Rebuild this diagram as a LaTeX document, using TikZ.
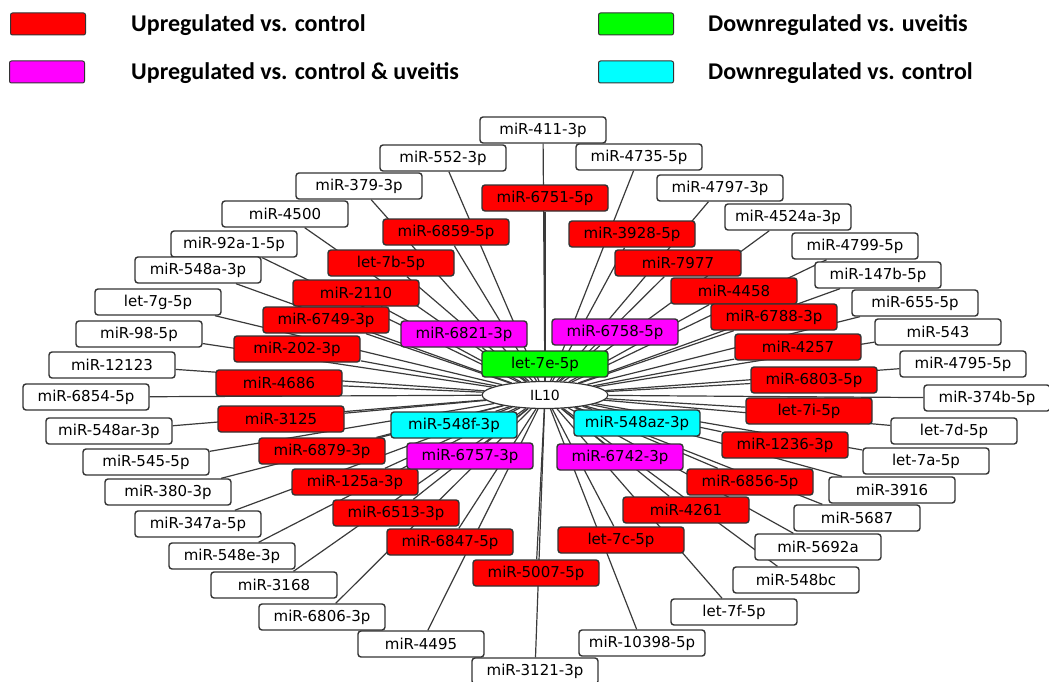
\documentclass[tikz,border=0pt]{standalone}
\usepackage{fontspec}
\newfontfamily\nodefont{DejaVu Sans}
\newfontfamily\legfont{Carlito}
\usetikzlibrary{backgrounds,shapes.geometric}
\definecolor{edgec}{HTML}{3A3A3A}
\definecolor{bordc}{HTML}{333333}
\definecolor{cred}{HTML}{FF0000}
\definecolor{cmag}{HTML}{FF00FF}
\definecolor{cgrn}{HTML}{00FF00}
\definecolor{ccyn}{HTML}{00FFFF}
\tikzset{
 mbox/.style={draw=bordc, line width=1.4pt, rounded corners=3pt, minimum width=126pt, minimum height=26pt, inner sep=0pt, fill=white, font=\nodefont\fontsize{15}{17}\selectfont},
 upc/.style={mbox, fill=cred},
 upcu/.style={mbox, fill=cmag},
 dnu/.style={mbox, fill=cgrn},
 dnc/.style={mbox, fill=ccyn},
 edge/.style={draw=edgec, line width=1.2pt},
 legbox/.style={draw=bordc, line width=1pt, rounded corners=2pt, minimum width=75pt, minimum height=22pt, inner sep=0pt},
 legtext/.style={anchor=base west, inner sep=0pt, font=\legfont\bfseries\fontsize{24}{28}\selectfont},
 hub/.style={ellipse, draw=bordc, line width=1.2pt, fill=white, minimum width=126pt, minimum height=27pt, inner sep=0pt, font=\nodefont\fontsize{14}{16}\selectfont},
}
\begin{document}
\begin{tikzpicture}[x=1pt,y=-1pt]
\useasboundingbox (0,0) rectangle (1049,682);
% legend
\node[legbox, fill=cred] (lg1) at (48,24) {};
\node[legtext] (lt1) at (131,32) {Upregulated vs. control};
\node[legbox, fill=cmag] (lg2) at (47,72) {};
\node[legtext] (lt2) at (131,80) {Upregulated vs. control \& uveitis};
\node[legbox, fill=cgrn] (lg3) at (636,24) {};
\node[legtext] (lt3) at (708,32) {Downregulated vs. uveitis};
\node[legbox, fill=ccyn] (lg4) at (636,72) {};
\node[legtext] (lt4) at (708,80) {Downregulated vs. control};
% white nodes
\node[mbox] (m411) at (543,130) {miR-411-3p};
\node[mbox] (m552) at (443,158) {miR-552-3p};
\node[mbox] (m379) at (359,186) {miR-379-3p};
\node[mbox] (m4500) at (285,214) {miR-4500};
\node[mbox] (m92a) at (234,244) {miR-92a-1-5p};
\node[mbox] (m548a) at (198,270) {miR-548a-3p};
\node[mbox] (l7g) at (158,302) {let-7g-5p};
\node[mbox] (m98) at (139,334) {miR-98-5p};
\node[mbox] (m12123) at (112,365) {miR-12123};
\node[mbox] (m6854) at (86,397) {miR-6854-5p};
\node[mbox] (m548ar) at (109,431) {miR-548ar-3p};
\node[mbox] (m545) at (146,462) {miR-545-5p};
\node[mbox] (m380) at (168,492) {miR-380-3p};
\node[mbox] (m347a) at (198,524) {miR-347a-5p};
\node[mbox] (m548e) at (232,556) {miR-548e-3p};
\node[mbox] (m3168) at (274,585) {miR-3168};
\node[mbox] (m6806) at (322,617) {miR-6806-3p};
\node[mbox] (m4495) at (421,644) {miR-4495};
\node[mbox] (m3121) at (535,671) {miR-3121-3p};
\node[mbox] (m4735) at (639,157) {miR-4735-5p};
\node[mbox] (m4797) at (720,188) {miR-4797-3p};
\node[mbox] (m4524a) at (788,217) {miR-4524a-3p};
\node[mbox] (m4799) at (855,246) {miR-4799-5p};
\node[mbox] (m147b) at (878,275) {miR-147b-5p};
\node[mbox] (m655) at (915,303) {miR-655-5p};
\node[mbox] (m543) at (938,332) {miR-543};
\node[mbox] (m4795) at (963,364) {miR-4795-5p};
\node[mbox] (m374b) at (987,398) {miR-374b-5p};
\node[mbox] (l7d) at (954,431) {let-7d-5p};
\node[mbox] (l7a) at (926,461) {let-7a-5p};
\node[mbox] (m3916) at (892,490) {miR-3916};
\node[mbox] (m5687) at (857,518) {miR-5687};
\node[mbox] (m5692a) at (818,547) {miR-5692a};
\node[mbox] (m548bc) at (796,580) {miR-548bc};
\node[mbox] (l7f) at (734,612) {let-7f-5p};
\node[mbox] (m10398) at (642,643) {miR-10398-5p};
% red nodes
\node[upc] (m6751) at (545,198) {miR-6751-5p};
\node[upc] (m6859) at (446,232) {miR-6859-5p};
\node[upc] (l7b) at (391,263) {let-7b-5p};
\node[upc] (m2110) at (356,293) {miR-2110};
\node[upc] (m6749) at (326,320) {miR-6749-3p};
\node[upc] (m202) at (297,349) {miR-202-3p};
\node[upc] (m4686) at (279,383) {miR-4686};
\node[upc] (m3125) at (281,419) {miR-3125};
\node[upc] (m6879) at (322,451) {miR-6879-3p};
\node[upc] (m125a) at (355,482) {miR-125a-3p};
\node[upc] (m6513) at (396,513) {miR-6513-3p};
\node[upc] (m6847) at (450,542) {miR-6847-5p};
\node[upc] (m5007) at (536,573) {miR-5007-5p};
\node[upc] (m3928) at (632,234) {miR-3928-5p};
\node[upc] (m7977) at (678,263) {miR-7977};
\node[upc] (m4458) at (734,291) {miR-4458};
\node[upc] (m6788) at (774,317) {miR-6788-3p};
\node[upc] (m4257) at (798,347) {miR-4257};
\node[upc] (m6803) at (814,380) {miR-6803-5p};
\node[upc] (l7i) at (809,411) {let-7i-5p};
\node[upc] (m1236) at (785,445) {miR-1236-3p};
\node[upc] (m6856) at (750,482) {miR-6856-5p};
\node[upc] (m4261) at (686,510) {miR-4261};
\node[upc] (l7c) at (621,540) {let-7c-5p};
% magenta
\node[upcu] (m6821) at (464,334) {miR-6821-3p};
\node[upcu] (m6758) at (615,332) {miR-6758-5p};
\node[upcu] (m6757) at (470,456) {miR-6757-3p};
\node[upcu] (m6742) at (620,457) {miR-6742-3p};
% green / cyan
\node[dnu] (l7e) at (545,364) {let-7e-5p};
\node[dnc] (m548f) at (454,425) {miR-548f-3p};
\node[dnc] (m548az) at (637,423) {miR-548az-3p};
% hub
\node[hub] (il) at (545,395) {IL10};
\begin{scope}[on background layer]
\foreach \n in {m411,m552,m379,m4500,m92a,m548a,l7g,m98,m12123,m6854,m548ar,m545,m380,m347a,m548e,m3168,m6806,m4495,m3121,m4735,m4797,m4524a,m4799,m147b,m655,m543,m4795,m374b,l7d,l7a,m3916,m5687,m5692a,m548bc,l7f,m10398,m6751,m6859,l7b,m2110,m6749,m202,m4686,m3125,m6879,m125a,m6513,m6847,m5007,m3928,m7977,m4458,m6788,m4257,m6803,l7i,m1236,m6856,m4261,l7c,m6821,m6758,m6757,m6742,l7e,m548f,m548az}
  \draw[edge] (il) -- (\n);
\end{scope}
\end{tikzpicture}
\end{document}
